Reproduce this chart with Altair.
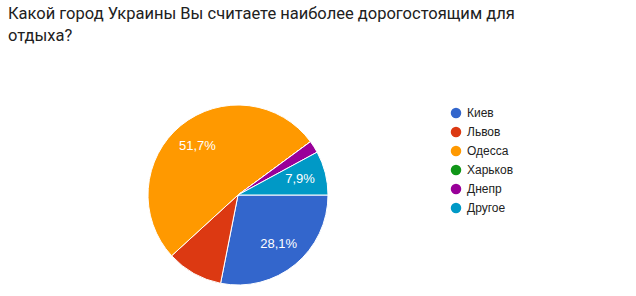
import math
import altair as alt
import pandas as pd

cities = ["Киев", "Львов", "Одесса", "Харьков", "Днепр", "Другое"]
shares = [28.1, 10.1, 51.7, 0.0, 2.2, 7.9]
show_label = [True, False, True, False, False, True]

colors = ["#3366cc", "#dc3912", "#ff9900", "#109618", "#990099", "#0099c6"]

labels = [
    (f"{v:.1f}%".replace(".", ",") if s else "")
    for v, s in zip(shares, show_label)
]
df = pd.DataFrame({"city": cities, "share": shares, "label": labels,
                   "idx": list(range(len(cities)))})

TOP = 62
CX, CY = 238, 195 - TOP
R = 90

theta_scale = alt.Scale(range=[math.pi / 2, math.pi / 2 + 2 * math.pi])
color = alt.Color(
    "city:N",
    scale=alt.Scale(domain=cities, range=colors),
    sort=cities,
    legend=alt.Legend(
        title=None, orient="none", legendX=450, legendY=112 - TOP - 5,
        symbolType="circle", symbolSize=110, symbolStrokeWidth=0,
        symbolOpacity=1, labelFontSize=12, labelFont="Liberation Sans",
        labelColor="#222222", rowPadding=7, padding=0, labelOffset=5,
    ),
)

base = alt.Chart(df)

arcs = base.mark_arc(radius=R, stroke="white", strokeWidth=1).encode(
    theta=alt.Theta("share:Q", stack=True, scale=theta_scale),
    color=color,
    order=alt.Order("idx:Q"),
    x=alt.value(CX),
    y=alt.value(CY),
)

text = base.mark_text(
    color="white", fontSize=13, font="Liberation Sans", radius=64
).encode(
    theta=alt.Theta("share:Q", stack=True, scale=theta_scale),
    order=alt.Order("idx:Q"),
    text="label:N",
    x=alt.value(CX),
    y=alt.value(CY),
)

chart = (
    alt.layer(arcs, text)
    .properties(
        width=636,
        height=296 - TOP,
        padding={"left": 0, "top": TOP, "right": 0, "bottom": 0},
        autosize=alt.AutoSizeParams(type="none"),
        view=alt.ViewBackground(stroke="transparent", strokeWidth=0),
        title=alt.TitleParams(
            ["Какой город Украины Вы считаете наиболее дорогостоящим для", "отдыха?"],
            anchor="start", frame="group", font="Roboto",
            fontSize=16.5, fontWeight="normal", color="#212121", lineHeight=22,
            dx=8, offset=18,
        ),
    )
    .configure_view(stroke="transparent", strokeWidth=0)
    .configure(background="white")
)

chart.save("out.html", embed_options={"renderer": "svg", "actions": False})
